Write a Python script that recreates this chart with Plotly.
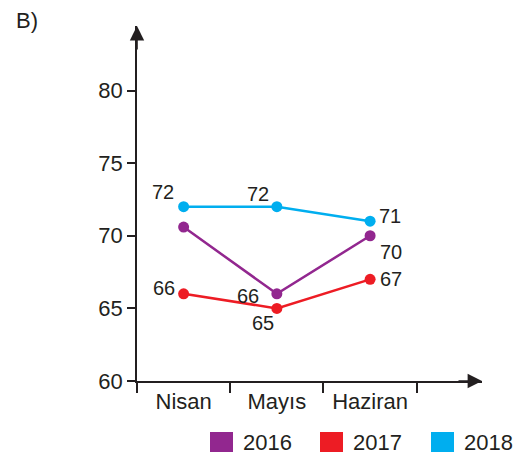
import plotly.graph_objects as go

# Monthly values per year
months = ["Nisan", "Mayıs", "Haziran"]
years = ["2016", "2017", "2018"]
values_2016 = [70.6, 66, 70]
values_2017 = [66, 65, 67]
values_2018 = [72, 72, 71]
labels_2016 = [None, "66", "70"]
labels_2017 = ["66", "65", "67"]
labels_2018 = ["72", "72", "71"]
y_ticks = [60, 65, 70, 75, 80]

colors = {"2016": "#92278F", "2017": "#ED1C24", "2018": "#00AEEF"}
ink = "#231F20"
font = "Liberation Sans, Arial, sans-serif"

W, H = 521, 461
ML, MR, MT, MB = 137, 39, 26, 80
PW, PH = W - ML - MR, H - MT - MB


def px_x(px):
    return (px - ML) / PW


def px_y(py):
    return (H - MB - py) / PH


series = [
    ("2016", values_2016, labels_2016),
    ("2017", values_2017, labels_2017),
    ("2018", values_2018, labels_2018),
]

xpos = list(range(len(months)))

fig = go.Figure()
for name, vals, _ in series:
    fig.add_trace(go.Scatter(
        x=xpos, y=vals, mode="lines+markers", name=name,
        line=dict(color=colors[name], width=2.5),
        marker=dict(color=colors[name], size=11),
        showlegend=False, cliponaxis=False,
    ))

# value label offsets (pixels) per series/month
offsets = {
    "2016": [None, (-29, -2), (21, -16)],
    "2017": [(-20, 6), (-14, -15), (21, 0)],
    "2018": [(-21, 15), (-19, 13), (20, 5)],
}

annotations = []
for name, vals, labs in series:
    for i, (v, lab) in enumerate(zip(vals, labs)):
        if lab is None:
            continue
        dx, dy = offsets[name][i]
        annotations.append(dict(
            x=xpos[i], y=v, xref="x", yref="y", text=lab, showarrow=False,
            xshift=dx, yshift=dy, font=dict(family=font, size=20, color=ink),
        ))

# axis arrow heads
x_end, y_end = 3.2, 60 + PH / ((381.5 - 91) / 20)
annotations.append(dict(
    x=-0.5, y=y_end, xref="x", yref="y", ax=0, ay=25, text="",
    showarrow=True, arrowhead=2, arrowsize=1.8, arrowwidth=1.6, arrowcolor=ink,
))
annotations.append(dict(
    x=x_end, y=60, xref="x", yref="y", ax=-25, ay=0, text="",
    showarrow=True, arrowhead=2, arrowsize=1.8, arrowwidth=1.6, arrowcolor=ink,
))

# panel letter
annotations.append(dict(
    x=px_x(14), y=px_y(20), xref="paper", yref="paper", xanchor="left",
    yanchor="middle", text="B)", showarrow=False,
    font=dict(family=font, size=22, color=ink),
))

# legend: colored squares with year labels
shapes = []
legend_sq_x = [210, 320, 431]
for name, sx in zip(years, legend_sq_x):
    shapes.append(dict(
        type="rect", xref="paper", yref="paper",
        x0=px_x(sx), x1=px_x(sx + 23), y0=px_y(452), y1=px_y(432),
        fillcolor=colors[name], line=dict(width=0),
    ))
    annotations.append(dict(
        x=px_x(sx + 31), y=px_y(442), xref="paper", yref="paper",
        xanchor="left", yanchor="middle", text=name, showarrow=False,
        font=dict(family=font, size=22, color=ink),
    ))

fig.update_layout(
    width=W, height=H,
    margin=dict(l=ML, r=MR, t=MT, b=MB, pad=0),
    paper_bgcolor="white", plot_bgcolor="white",
    showlegend=False,
    annotations=annotations, shapes=shapes,
    xaxis=dict(
        range=[-0.5, x_end], tickmode="array", tickvals=xpos, ticktext=months,
        ticks="", showgrid=False, zeroline=False,
        showline=True, linecolor=ink, linewidth=1.6,
        tickfont=dict(family=font, size=22, color=ink),
        minor=dict(tickmode="array", tickvals=[-0.5, 0.5, 1.5, 2.5],
                   ticks="outside", ticklen=10, tickwidth=1.6, tickcolor=ink,
                   showgrid=False),
    ),
    yaxis=dict(
        range=[60, y_end], tickmode="array", tickvals=y_ticks,
        ticks="outside", ticklen=8, tickwidth=1.6, tickcolor=ink,
        showgrid=False, zeroline=False,
        showline=True, linecolor=ink, linewidth=1.6,
        tickfont=dict(family=font, size=22, color=ink),
    ),
)

fig.write_html("out.html")
